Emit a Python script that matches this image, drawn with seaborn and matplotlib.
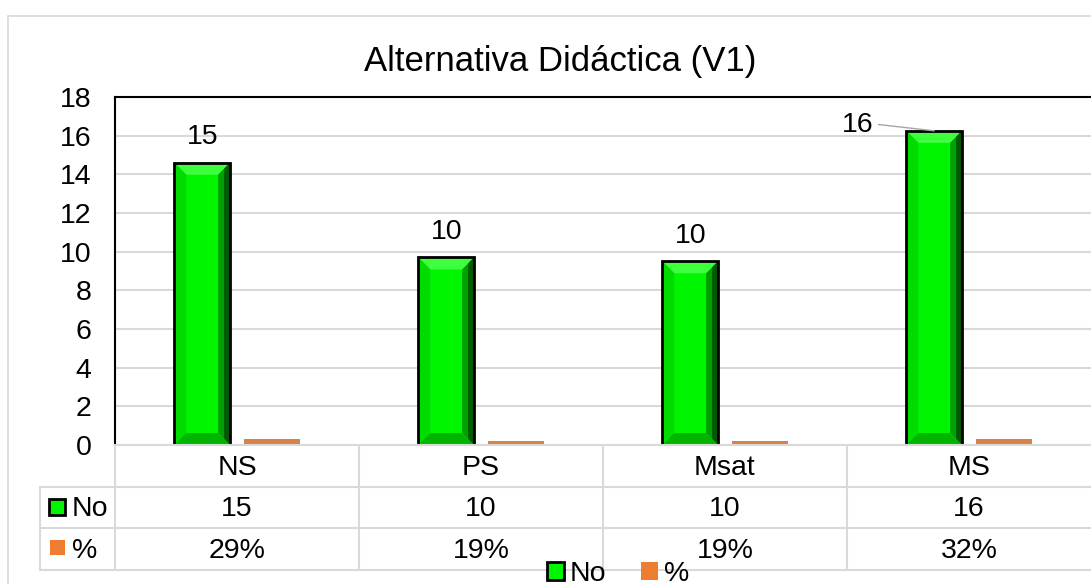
import pandas as pd
import seaborn as sns
import matplotlib.pyplot as plt
import matplotlib.transforms as mtransforms
from matplotlib.patches import Patch, Rectangle, Polygon
from matplotlib.lines import Line2D

# Chart data
categories = ['NS', 'PS', 'Msat', 'MS']
no_values = [14.6, 9.7, 9.5, 16.25]
pct_values = [0.29, 0.19, 0.19, 0.32]
series = ['No', '%']

df = pd.DataFrame({
    'cat': categories * 2,
    'serie': ['No'] * 4 + ['%'] * 4,
    'val': no_values + pct_values,
})

GREEN = '#00f500'
ORANGE = '#ed7d31'
GRID = '#d9d9d9'
FS = 20.5

sns.set_style('white')
plt.rcParams['font.family'] = ['Liberation Sans', 'DejaVu Sans']
plt.rcParams['text.color'] = 'black'
plt.rcParams['ytick.color'] = 'black'
plt.rcParams['ytick.labelcolor'] = 'black'

W, H = 1091, 584
def fx(px):
    return px / W
def fy(py):
    return 1 - py / H

fig = plt.figure(figsize=(W / 100, H / 100), dpi=100)

# outer chart border
fig.add_artist(Rectangle((fx(8), fy(620)), fx(1200), 604 / H, transform=fig.transFigure,
                         fc='white', ec=GRID, lw=1.2, zorder=0))

ax = fig.add_axes([fx(115), fy(445), fx(1091 - 115), (445 - 97) / H])
ax.set_facecolor('none')

sns.barplot(data=df, x='cat', y='val', hue='serie', order=categories, hue_order=series,
            palette={'No': GREEN, '%': ORANGE}, width=0.57, gap=0.2,
            errorbar=None, legend=False, ax=ax)

ax.set_xlim(-0.5, 3.5)
ax.set_ylim(0, 18)
ax.set_yticks(range(0, 19, 2))
ax.set_xticks([])
ax.set_xlabel('')
ax.set_ylabel('')
ax.tick_params(axis='y', length=0, pad=17, labelsize=FS, labelcolor='black')
ax.yaxis.grid(True, color=GRID, lw=1.5)
ax.set_axisbelow(True)
for s in ['left', 'top']:
    ax.spines[s].set_color('black')
    ax.spines[s].set_linewidth(1.5)
ax.spines['right'].set_visible(False)
ax.spines['bottom'].set_color(GRID)
ax.spines['bottom'].set_linewidth(1.5)

# bevel look on the green bars
px_per_unit = ax.bbox.height / 18
for bar in ax.containers[0]:
    x0 = bar.get_x()
    w = bar.get_width()
    x1 = x0 + w
    h = bar.get_height()
    dx = w * 12 / 56
    dy = 12 / px_per_unit
    z = bar.get_zorder() + 0.1
    bar.set_facecolor(GREEN)
    pieces = [
        ([(x0, h), (x1, h), (x1 - dx, h - dy), (x0 + dx, h - dy)], '#3dff3d'),
        ([(x0, 0), (x0, h), (x0 + dx, h - dy), (x0 + dx, dy)], '#00dc00'),
        ([(x1, 0), (x1, h), (x1 - dx, h - dy), (x1 - dx, dy)], '#00a000'),
        ([(x1, 0), (x1, h), (x1 - dx / 2, h - dy / 2), (x1 - dx / 2, dy / 2)], '#005a00'),
        ([(x0, 0), (x1, 0), (x1 - dx, dy), (x0 + dx, dy)], '#00b400'),
    ]
    for pts, col in pieces:
        ax.add_patch(Polygon(pts, closed=True, fc=col, ec='none', zorder=z))
    ax.add_patch(Rectangle((x0, 0), w, h, fc='none', ec='black', lw=2, zorder=z + 0.1))

for bar in ax.containers[1]:
    bar.set_edgecolor('none')

# data labels on the green bars
for i, bar in enumerate(ax.containers[0]):
    cx = bar.get_x() + bar.get_width() / 2
    h = bar.get_height()
    label = f'{no_values[i]:.0f}'
    if categories[i] == 'MS':
        ax.annotate(label, xy=(cx, h), xytext=(-55, 4), textcoords='offset points',
                    ha='center', va='center', fontsize=FS, annotation_clip=False,
                    arrowprops=dict(arrowstyle='-', color='#a6a6a6', lw=1,
                                    shrinkA=1, shrinkB=0, relpos=(1, 0.55)))
    else:
        ax.annotate(label, xy=(cx, h), xytext=(0, 18.5), textcoords='offset points',
                    ha='center', va='center', fontsize=FS)

fig.text(fx(560), fy(62), 'Alternativa Didáctica (V1)', ha='center', va='center', fontsize=25)

# data table below the plot
trans = mtransforms.blended_transform_factory(ax.transData, fig.transFigure)
for b in [-0.5, 0.5, 1.5, 2.5]:
    fig.add_artist(Line2D([b, b], [fy(445), fy(570)], transform=trans, color=GRID, lw=1.5))
fig.add_artist(Line2D([fx(40), fx(40)], [fy(487), fy(570)], transform=fig.transFigure,
                      color=GRID, lw=1.5))
for yy in [487, 528, 570]:
    fig.add_artist(Line2D([fx(40), 1], [fy(yy), fy(yy)], transform=fig.transFigure,
                          color=GRID, lw=1.5))

for i, c in enumerate(categories):
    fig.text(i, fy(468), c, transform=trans, ha='center', va='center', fontsize=FS)
    fig.text(i, fy(509), f'{no_values[i]:.0f}', transform=trans, ha='center', va='center', fontsize=FS)
    fig.text(i, fy(551), f'{pct_values[i]:.0%}', transform=trans, ha='center', va='center', fontsize=FS)

fig.add_artist(Rectangle((fx(49), fy(515)), 16 / W, 16 / H, transform=fig.transFigure,
                         fc=GREEN, ec='black', lw=2))
fig.add_artist(Rectangle((fx(50), fy(555)), 15 / W, 15 / H, transform=fig.transFigure,
                         fc=ORANGE, ec='none'))
fig.text(fx(72), fy(509), 'No', ha='left', va='center', fontsize=FS)
fig.text(fx(72), fy(551), '%', ha='left', va='center', fontsize=FS)

# legend at the bottom
handles = [Patch(fc=GREEN, ec='black', lw=2), Patch(fc=ORANGE, ec='none')]
fig.legend(handles, series, loc='center', bbox_to_anchor=(fx(618), fy(574)), ncol=2,
           frameon=False, fontsize=FS, handlelength=0.6, handleheight=0.6,
           handletextpad=0.2, columnspacing=1.2, borderpad=0)

fig.savefig('out.png', dpi=100)
